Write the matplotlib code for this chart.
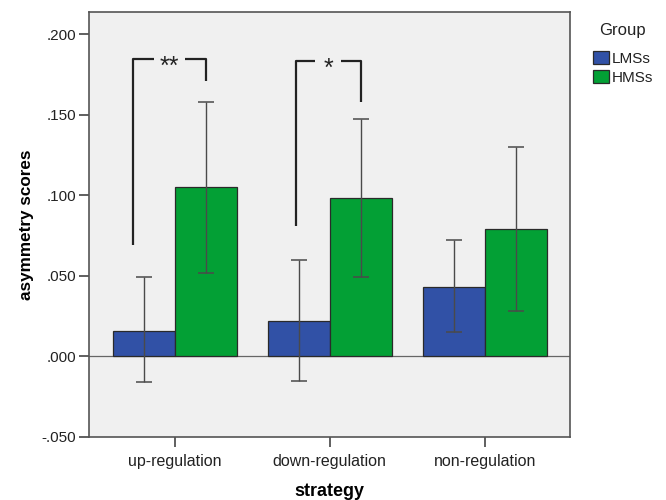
import matplotlib
matplotlib.use("Agg")
import matplotlib.pyplot as plt
import numpy as np
from matplotlib.patches import Patch
from matplotlib.ticker import FuncFormatter

plt.rcParams['font.family'] = ['Liberation Sans', 'DejaVu Sans']

categories = ["up-regulation", "down-regulation", "non-regulation"]
groups = ["LMSs", "HMSs"]
lms_mean = [0.016, 0.022, 0.043]
lms_hi = [0.049, 0.060, 0.072]
lms_lo = [-0.016, -0.015, 0.015]
hms_mean = [0.105, 0.098, 0.079]
hms_hi = [0.158, 0.147, 0.130]
hms_lo = [0.052, 0.049, 0.028]

# significance brackets
sig_cat = [0, 1]
sig_label = ["**", "*"]
sig_left_bottom = [0.069, 0.081]
sig_top = [0.1845, 0.183]
sig_right_bottom = [0.171, 0.158]
sig_left_x = [-0.27, -0.22]

blue = '#3151a6'
green = '#03a035'

fig = plt.figure(figsize=(6.66, 5.0), dpi=100)
ax = fig.add_axes([0.1336, 0.126, 0.722, 0.85])
ax.set_facecolor('#f0f0f0')

x = np.arange(len(categories))
w = 0.4
lm = np.array(lms_mean); hm = np.array(hms_mean)
ax.bar(x - w/2, lm, w, color=blue, edgecolor='#2a2a2a', linewidth=0.9, zorder=2)
ax.bar(x + w/2, hm, w, color=green, edgecolor='#2a2a2a', linewidth=0.9, zorder=2)
ax.errorbar(x - w/2, lm, yerr=[lm - np.array(lms_lo), np.array(lms_hi) - lm], fmt='none',
            ecolor='#4a4a4a', elinewidth=1.0, capsize=6, capthick=1.1, zorder=3)
ax.errorbar(x + w/2, hm, yerr=[hm - np.array(hms_lo), np.array(hms_hi) - hm], fmt='none',
            ecolor='#4a4a4a', elinewidth=1.0, capsize=6, capthick=1.1, zorder=3)

ax.axhline(0, color='#666666', linewidth=0.9, zorder=1)

for i, c in enumerate(sig_cat):
    xl = c + sig_left_x[i]
    xr = c + w/2
    xm = (xl + xr) / 2
    gap = 0.103 if len(sig_label[i]) == 2 else 0.085
    ax.plot([xl, xl, xm - gap], [sig_left_bottom[i], sig_top[i], sig_top[i]], color='#222222', lw=1.6, zorder=4,
            solid_capstyle='butt')
    ax.plot([xm + gap, xr, xr], [sig_top[i], sig_top[i], sig_right_bottom[i]], color='#222222', lw=1.6, zorder=4,
            solid_capstyle='butt')
    ax.annotate(sig_label[i], (xm, sig_top[i]), xytext=(0, -10.5), textcoords='offset points',
                ha='center', va='baseline', fontsize=18, color='#222222', zorder=4)

ax.set_xlim(-0.555, 2.55)
ax.set_ylim(-0.05, 0.2137)
ax.set_yticks([-0.05, 0, 0.05, 0.1, 0.15, 0.2])

def fmt(v, pos):
    s = f"{v:.3f}"
    if s.startswith("0"):
        s = s[1:]
    elif s.startswith("-0"):
        s = "-" + s[2:]
    return s

ax.yaxis.set_major_formatter(FuncFormatter(fmt))
ax.set_xticks(x)
ax.set_xticklabels(categories)
ax.tick_params(axis='both', color='#444444', length=7, width=1.2, labelcolor='#222222')
ax.tick_params(axis='y', labelsize=11, pad=2)
ax.tick_params(axis='x', labelsize=11.5, pad=5)
for s in ax.spines.values():
    s.set_color('#555555')
    s.set_linewidth(1.2)

ax.set_ylabel("asymmetry scores", fontsize=12.3, fontweight='bold', labelpad=6)
ax.set_xlabel("strategy", fontsize=13, fontweight='bold', labelpad=10)

fig.text(622/666, 1 - 30/500, "Group", ha='center', va='center', fontsize=12, color='#222222')
handles = [Patch(facecolor=blue, edgecolor='#2a2a2a', lw=0.9), Patch(facecolor=green, edgecolor='#2a2a2a', lw=0.9)]
leg = fig.legend(handles, groups, loc='upper left', bbox_to_anchor=(593/666, 1 - 51/500),
                 frameon=False, fontsize=11, handlelength=1.05, handleheight=0.95,
                 handletextpad=0.15, labelspacing=0.25, borderpad=0, borderaxespad=0)
for t in leg.get_texts():
    t.set_color('#222222')

fig.savefig("out.png", dpi=100)
